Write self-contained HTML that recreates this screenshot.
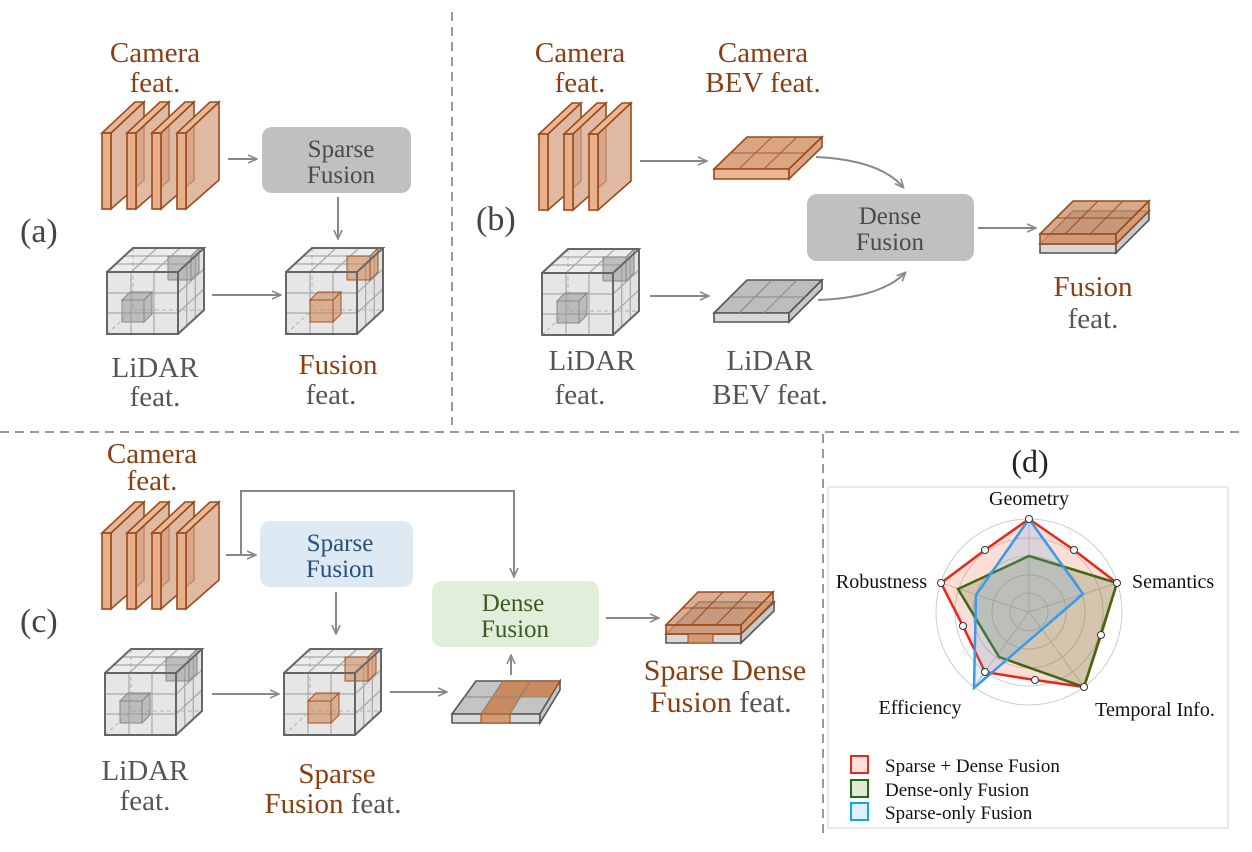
<!DOCTYPE html>
<html><head><meta charset="utf-8"><style>
html,body{margin:0;padding:0;background:#fff;}
svg{display:block;font-family:"Liberation Serif",serif;}
</style></head><body>
<svg width="1252" height="852" viewBox="0 0 1252 852" xmlns="http://www.w3.org/2000/svg">
<defs>
<marker id="ah" markerWidth="10" markerHeight="10" refX="8" refY="5" orient="auto" markerUnits="userSpaceOnUse">
<path d="M0,1 L9,5 L0,9" fill="none" stroke="#888" stroke-width="1.6"/>
</marker>
<g id="plane">
<polygon points="9,0 42,-31 42,47 9,76" fill="#d6a283" fill-opacity="0.75" stroke="#9a4a1a" stroke-width="1.6"/>
<polygon points="0,0 9,0 42,-31 33,-31" fill="#ebb896" stroke="#9a4a1a" stroke-width="1.6"/>
<rect x="0" y="0" width="9" height="76" fill="#e8b08a" stroke="#9a4a1a" stroke-width="1.6"/>
</g>
<g id="cam4">
<use href="#plane" x="0"/><use href="#plane" x="25"/><use href="#plane" x="50"/><use href="#plane" x="75"/>
</g>
<g id="cubebase">
<polygon points="0,0 71,0 97,-24 26,-24" fill="#ececec"/>
<polygon points="71,0 97,-24 97,38 71,62" fill="#e2e2e2"/>
<rect x="0" y="0" width="71" height="62" fill="#e6e6e6"/>
<g stroke="#bbb" stroke-width="1.2" fill="none" stroke-dasharray="4,3">
<polyline points="26,-24 26,38 97,38"/><line x1="0" y1="62" x2="26" y2="38"/>
</g>
<g stroke="#a8a8a8" stroke-width="1.2">
<line x1="24" y1="0" x2="50" y2="-24"/><line x1="47" y1="0" x2="73" y2="-24"/>
<line x1="8.7" y1="-8" x2="79.7" y2="-8"/><line x1="17.3" y1="-16" x2="88.3" y2="-16"/>
<line x1="79.7" y1="-8" x2="79.7" y2="54"/><line x1="88.3" y1="-16" x2="88.3" y2="46"/>
<line x1="71" y1="21" x2="97" y2="-3"/><line x1="71" y1="41" x2="97" y2="17"/>
<line x1="24" y1="0" x2="24" y2="62"/><line x1="47" y1="0" x2="47" y2="62"/>
<line x1="0" y1="21" x2="71" y2="21"/><line x1="0" y1="41" x2="71" y2="41"/>
</g>
</g>
<g id="cubeout">
<g fill="none" stroke="#666" stroke-width="2">
<rect x="0" y="0" width="71" height="62"/>
<polyline points="0,0 26,-24 97,-24 71,0"/>
<polyline points="97,-24 97,38 71,62"/>
</g>
</g>
<g id="lidarcube">
<use href="#cubebase"/>
<g fill="#999" fill-opacity="0.55" stroke="#888" stroke-width="1">
<rect x="15" y="28" width="22" height="22"/>
<polygon points="15,28 37,28 45,20 23,20"/>
<polygon points="37,28 45,20 45,42 37,50"/>
<rect x="61" y="-16" width="23" height="24"/>
<polygon points="84,-16 92,-24 92,0 84,8" />
</g>
<use href="#cubeout"/>
</g>
<g id="fuscube">
<use href="#cubebase"/>
<g fill="#d08a5a" fill-opacity="0.6" stroke="#a0542a" stroke-width="1">
<rect x="24" y="28" width="23" height="22"/>
<polygon points="24,28 47,28 55,20 32,20"/>
<polygon points="47,28 55,20 55,42 47,50"/>
<rect x="61" y="-16" width="23" height="24"/>
<polygon points="84,-16 92,-24 92,0 84,8"/>
</g>
<use href="#cubeout"/>
</g>
</defs>

<g stroke="#999" stroke-width="2" stroke-dasharray="9,6">
<line x1="452" y1="12" x2="452" y2="425"/>
<line x1="0" y1="432" x2="1240" y2="432"/>
<line x1="823" y1="434" x2="823" y2="835"/>
</g>

<!-- (a) -->
<text x="20" y="242" font-size="34" fill="#444">(a)</text>
<text x="155" y="62" font-size="29" fill="#8a3f12" text-anchor="middle">Camera</text>
<text x="155" y="92" font-size="29" fill="#8a3f12" text-anchor="middle">feat.</text>
<use href="#cam4" x="102" y="133"/>
<line x1="228" y1="159" x2="256" y2="159" stroke="#888" stroke-width="2" marker-end="url(#ah)"/>
<rect x="262" y="127" width="149" height="66" rx="10" fill="#c0c0c0"/>
<text x="341" y="157" font-size="25" fill="#4a4a4a" text-anchor="middle">Sparse</text>
<text x="341" y="183" font-size="25" fill="#4a4a4a" text-anchor="middle">Fusion</text>
<line x1="338" y1="197" x2="338" y2="238" stroke="#888" stroke-width="2" marker-end="url(#ah)"/>
<use href="#lidarcube" x="107" y="272"/>
<line x1="212" y1="295" x2="280" y2="295" stroke="#888" stroke-width="2" marker-end="url(#ah)"/>
<use href="#fuscube" x="286" y="272"/>
<text x="155" y="377" font-size="29" fill="#555" text-anchor="middle">LiDAR</text>
<text x="155" y="406" font-size="29" fill="#555" text-anchor="middle">feat.</text>
<text x="338" y="374" font-size="29" fill="#8a3f12" text-anchor="middle">Fusion</text>
<text x="331" y="404" font-size="29" fill="#555" text-anchor="middle">feat.</text>

<!-- (b) -->
<text x="476" y="230" font-size="34" fill="#444">(b)</text>
<text x="580" y="62" font-size="29" fill="#8a3f12" text-anchor="middle">Camera</text>
<text x="580" y="92" font-size="29" fill="#8a3f12" text-anchor="middle">feat.</text>
<text x="763" y="62" font-size="29" fill="#8a3f12" text-anchor="middle">Camera</text>
<text x="763" y="92" font-size="29" fill="#8a3f12" text-anchor="middle">BEV feat.</text>
<g><use href="#plane" x="539" y="134"/><use href="#plane" x="564" y="134"/><use href="#plane" x="589" y="134"/></g>
<line x1="640" y1="161" x2="706" y2="161" stroke="#888" stroke-width="2" marker-end="url(#ah)"/>
<g stroke="#9a4a1a" stroke-width="1.6">
<polygon points="714,169 789,169 822,137 747,137" fill="#dba583"/>
<polygon points="714,169 789,169 789,179 714,179" fill="#ebb594"/>
<polygon points="789,169 822,137 822,147 789,179" fill="#dba583"/>
<g stroke-width="1" stroke="#a55a30"><line x1="739" y1="169" x2="772" y2="137"/><line x1="764" y1="169" x2="797" y2="137"/><line x1="730" y1="153" x2="805" y2="153"/></g>
</g>
<path d="M816,157 Q880,160 903,187" fill="none" stroke="#888" stroke-width="2" marker-end="url(#ah)"/>
<rect x="807" y="194" width="167" height="67" rx="10" fill="#c0c0c0"/>
<text x="890" y="224" font-size="25" fill="#4a4a4a" text-anchor="middle">Dense</text>
<text x="890" y="250" font-size="25" fill="#4a4a4a" text-anchor="middle">Fusion</text>
<line x1="978" y1="228" x2="1035" y2="228" stroke="#888" stroke-width="2" marker-end="url(#ah)"/>
<use href="#lidarcube" x="542" y="273"/>
<line x1="650" y1="296" x2="708" y2="296" stroke="#888" stroke-width="2" marker-end="url(#ah)"/>
<g stroke="#555" stroke-width="1.6">
<polygon points="714,313 789,313 822,280 747,280" fill="#bdbdbd"/>
<polygon points="714,313 789,313 789,322 714,322" fill="#d8d8d8"/>
<polygon points="789,313 822,280 822,289 789,322" fill="#c8c8c8"/>
<g stroke-width="1" stroke="#888"><line x1="739" y1="313" x2="772" y2="280"/><line x1="764" y1="313" x2="797" y2="280"/><line x1="730" y1="297" x2="805" y2="297"/></g>
</g>
<path d="M818,300 Q880,298 905,273" fill="none" stroke="#888" stroke-width="2" marker-end="url(#ah)"/>
<g stroke-width="1.6">
<polygon points="1040,244 1116,244 1149,211 1073,211" fill="#bdbdbd" stroke="#555"/>
<polygon points="1040,244 1116,244 1116,253 1040,253" fill="#d8d8d8" stroke="#555"/>
<polygon points="1116,244 1149,211 1149,220 1116,253" fill="#c8c8c8" stroke="#555"/>
<polygon points="1040,234 1116,234 1149,201 1073,201" fill="#c98c64" fill-opacity="0.75" stroke="#9a4a1a"/>
<polygon points="1040,234 1116,234 1116,244 1040,244" fill="#d4946a" fill-opacity="0.85" stroke="#9a4a1a"/>
<polygon points="1116,234 1149,201 1149,211 1116,244" fill="#d4946a" fill-opacity="0.8" stroke="#9a4a1a"/>
<g stroke="#9a4a1a" stroke-width="1"><line x1="1065" y1="234" x2="1098" y2="201"/><line x1="1090" y1="234" x2="1123" y2="201"/><line x1="1056" y1="218" x2="1132" y2="218"/></g>
</g>
<text x="1093" y="296" font-size="29" fill="#8a3f12" text-anchor="middle">Fusion</text>
<text x="1093" y="328" font-size="29" fill="#555" text-anchor="middle">feat.</text>
<text x="592" y="370" font-size="29" fill="#555" text-anchor="middle">LiDAR</text>
<text x="580" y="404" font-size="29" fill="#555" text-anchor="middle">feat.</text>
<text x="770" y="370" font-size="29" fill="#555" text-anchor="middle">LiDAR</text>
<text x="770" y="404" font-size="29" fill="#555" text-anchor="middle">BEV feat.</text>

<!-- (c) -->
<text x="20" y="632" font-size="34" fill="#444">(c)</text>
<text x="152" y="463" font-size="29" fill="#8a3f12" text-anchor="middle">Camera</text>
<text x="152" y="490" font-size="29" fill="#8a3f12" text-anchor="middle">feat.</text>
<use href="#cam4" x="102" y="533"/>
<polyline points="241,555 241,491 514,491 514,576" fill="none" stroke="#888" stroke-width="2" marker-end="url(#ah)"/>
<line x1="226" y1="555" x2="255" y2="555" stroke="#888" stroke-width="2" marker-end="url(#ah)"/>
<rect x="260" y="521" width="153" height="66" rx="10" fill="#dde9f3"/>
<text x="340" y="551" font-size="25" fill="#27507a" text-anchor="middle">Sparse</text>
<text x="340" y="577" font-size="25" fill="#27507a" text-anchor="middle">Fusion</text>
<line x1="336" y1="592" x2="336" y2="633" stroke="#888" stroke-width="2" marker-end="url(#ah)"/>
<rect x="432" y="581" width="167" height="66" rx="10" fill="#e1eed9"/>
<text x="513" y="611" font-size="25" fill="#3b5a23" text-anchor="middle">Dense</text>
<text x="515" y="637" font-size="25" fill="#3b5a23" text-anchor="middle">Fusion</text>
<line x1="606" y1="618" x2="658" y2="618" stroke="#888" stroke-width="2" marker-end="url(#ah)"/>
<line x1="511" y1="675" x2="511" y2="656" stroke="#888" stroke-width="2" marker-end="url(#ah)"/>
<use href="#lidarcube" x="105" y="673"/>
<line x1="212" y1="694" x2="278" y2="694" stroke="#888" stroke-width="2" marker-end="url(#ah)"/>
<use href="#fuscube" x="284" y="673"/>
<line x1="390" y1="692" x2="446" y2="692" stroke="#888" stroke-width="2" marker-end="url(#ah)"/>
<!-- middle slab -->
<g>
<polygon points="452,714 540,714 560,681 476,681" fill="#c4c4c4" stroke="#555" stroke-width="1.6"/>
<polygon points="452,714 540,714 540,723 452,723" fill="#d8d8d8" stroke="#555" stroke-width="1.6"/>
<polygon points="540,714 560,681 560,690 540,723" fill="#c8c8c8" stroke="#555" stroke-width="1.6"/>
<polygon points="481,714 510,714 530,681 503,681" fill="#c98a60" stroke="#9a4a1a" stroke-width="1"/>
<rect x="481" y="714" width="29" height="9" fill="#d49a72" stroke="#9a4a1a" stroke-width="1"/>
<polygon points="520,697 550,697 560,681 530,681" fill="#c98a60" stroke="#9a4a1a" stroke-width="1"/>
<g stroke="#888" stroke-width="1"><line x1="464" y1="697" x2="550" y2="697"/><line x1="481" y1="714" x2="503" y2="681"/><line x1="510" y1="714" x2="530" y2="681"/></g>
</g>
<!-- final slab -->
<g stroke-width="1.6">
<polygon points="666,634 741,634 774,602 699,602" fill="#bdbdbd" stroke="#555"/>
<polygon points="666,634 741,634 741,643 666,643" fill="#d8d8d8" stroke="#555"/>
<polygon points="741,634 774,602 774,611 741,643" fill="#c8c8c8" stroke="#555"/>
<polygon points="666,625 741,625 773,592 698,592" fill="#c98c64" fill-opacity="0.7" stroke="#9a4a1a"/>
<rect x="666" y="625" width="75" height="9" fill="#d4946a" fill-opacity="0.8" stroke="#9a4a1a"/>
<polygon points="741,625 773,592 773,602 741,634" fill="#d4946a" fill-opacity="0.8" stroke="#9a4a1a"/>
<rect x="688" y="634" width="25" height="9" fill="#d49a72" stroke="#9a4a1a" stroke-width="1"/>
<g stroke="#9a4a1a" stroke-width="1"><line x1="691" y1="625" x2="723" y2="592"/><line x1="716" y1="625" x2="748" y2="592"/><line x1="682" y1="608" x2="757" y2="608"/></g>
</g>
<text x="725" y="680" font-size="30" fill="#8a3f12" text-anchor="middle">Sparse Dense</text>
<text x="650" y="712" font-size="30" fill="#8a3f12">Fusion <tspan fill="#555">feat.</tspan></text>
<text x="145" y="780" font-size="29" fill="#555" text-anchor="middle">LiDAR</text>
<text x="145" y="810" font-size="29" fill="#555" text-anchor="middle">feat.</text>
<text x="337" y="783" font-size="29" fill="#8a3f12" text-anchor="middle">Sparse</text>
<text x="333" y="813" font-size="29" fill="#8a3f12" text-anchor="middle">Fusion <tspan fill="#555">feat.</tspan></text>

<!-- (d) -->
<text x="1030" y="472" font-size="32" fill="#222" text-anchor="middle">(d)</text>
<rect x="828" y="487" width="400" height="341" fill="#fff" stroke="#ddd" stroke-width="1.2"/>
<g fill="none" stroke="#ccc" stroke-width="1">
<circle cx="1029" cy="612" r="19"/><circle cx="1029" cy="612" r="37"/><circle cx="1029" cy="612" r="56"/><circle cx="1029" cy="612" r="74"/><circle cx="1029" cy="612" r="93"/>
<line x1="1029" y1="612" x2="1029" y2="519"/><line x1="1029" y1="612" x2="1117" y2="583"/><line x1="1029" y1="612" x2="1084" y2="687"/><line x1="1029" y1="612" x2="974" y2="687"/><line x1="1029" y1="612" x2="941" y2="583"/>
</g>
<polygon points="1029,519 1074,550 1117,583 1101,635 1084,687 1035,680 985,672 963,626 941,583 985,550" fill="#f27a60" fill-opacity="0.25" stroke="#e8271b" stroke-width="2.5"/>
<polygon points="1029,556 1117,583 1084,687 999,657 958,589" fill="#4f6a1f" fill-opacity="0.22" stroke="#3f6a12" stroke-width="2.5"/>
<polygon points="1029,519 1083,594 974,688 976,595" fill="#5aa8e8" fill-opacity="0.2" stroke="#3a9ae8" stroke-width="2.5"/>
<g fill="#fff" stroke="#333" stroke-width="1">
<circle cx="1029" cy="519" r="3.5"/><circle cx="1074" cy="550" r="3.5"/><circle cx="1117" cy="583" r="3.5"/><circle cx="1101" cy="635" r="3.5"/><circle cx="1084" cy="687" r="3.5"/><circle cx="1035" cy="680" r="3.5"/><circle cx="985" cy="672" r="3.5"/><circle cx="963" cy="626" r="3.5"/><circle cx="941" cy="583" r="3.5"/><circle cx="985" cy="550" r="3.5"/>
</g>
<g font-size="20" fill="#111">
<text x="1029" y="505" text-anchor="middle">Geometry</text>
<text x="1132" y="588">Semantics</text>
<text x="927" y="588" text-anchor="end">Robustness</text>
<text x="920" y="714" text-anchor="middle">Efficiency</text>
<text x="1155" y="716" text-anchor="middle">Temporal Info.</text>
</g>
<rect x="851" y="756" width="17" height="17" fill="#fde0dc" stroke="#e8271b" stroke-width="2"/>
<rect x="851" y="780" width="17" height="17" fill="#e1e8d8" stroke="#1f6a12" stroke-width="2"/>
<rect x="851" y="803" width="17" height="17" fill="#dff0fd" stroke="#1aa0f0" stroke-width="2"/>
<g font-size="19" fill="#111">
<text x="885" y="772">Sparse + Dense Fusion</text>
<text x="885" y="796">Dense-only Fusion</text>
<text x="885" y="819">Sparse-only Fusion</text>
</g>
</svg>
</body></html>
